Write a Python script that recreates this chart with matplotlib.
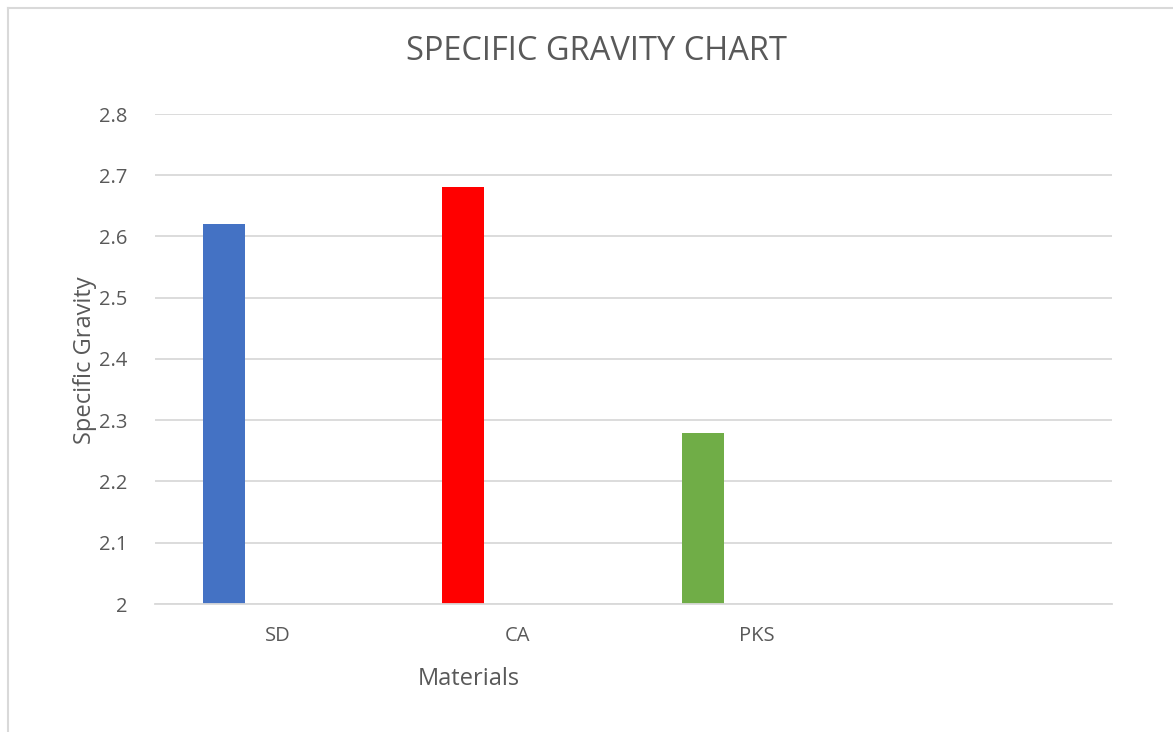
import matplotlib
matplotlib.use("Agg")
import matplotlib.pyplot as plt
from matplotlib.lines import Line2D

categories = ["SD", "CA", "PKS"]
values = [2.62, 2.68, 2.28]
bar_colors = ["#4472C4", "#FF0000", "#70AD47"]
y_ticks = [2.0, 2.1, 2.2, 2.3, 2.4, 2.5, 2.6, 2.7, 2.8]
y_tick_labels = ["2", "2.1", "2.2", "2.3", "2.4", "2.5", "2.6", "2.7", "2.8"]

plt.rcParams["font.family"] = ["Open Sans", "DejaVu Sans"]
text_color = "#595959"
grid_color = "#D9D9D9"

W, H = 1173, 732
fig = plt.figure(figsize=(W / 100, H / 100), dpi=100)
ax = fig.add_axes([155 / W, 1 - 604 / H, (1112 - 155) / W, (604 - 114) / H])

x = list(range(len(categories)))
offset = -0.211
width = 0.176
ax.bar([i + offset for i in x], [v - 2.0 for v in values], bottom=2.0,
       width=width, color=bar_colors, zorder=3)

ax.set_xlim(-0.5, 3.5)
ax.set_ylim(2.0, 2.8)
ax.set_yticks(y_ticks)
ax.set_yticklabels(y_tick_labels)
ax.set_xticks([i + 0.015 for i in x])
ax.set_xticklabels(categories)

ax.yaxis.grid(True, color=grid_color, linewidth=1.3, zorder=0)
for side in ["top", "right", "left"]:
    ax.spines[side].set_visible(False)
ax.spines["bottom"].set_color(grid_color)
ax.spines["bottom"].set_linewidth(1.3)
ax.spines["bottom"].set_zorder(4)

ax.tick_params(axis="both", length=0, labelsize=14.5, colors=text_color)
ax.tick_params(axis="y", pad=20)
ax.tick_params(axis="x", pad=16)

fig.text(596 / W, 1 - 52 / H, "SPECIFIC GRAVITY CHART", ha="center", va="center",
         fontsize=23.5, color=text_color)
fig.text(85 / W, 1 - 360 / H, "Specific Gravity", ha="center", va="center",
         rotation=90, fontsize=17, color=text_color)
fig.text(469 / W, 1 - 679 / H, "Materials", ha="center", va="center",
         fontsize=17, color=text_color)

# chart frame edges
fig.add_artist(Line2D([7.5 / W, 7.5 / W], [0, 1 - 7.5 / H], transform=fig.transFigure,
                      color=grid_color, linewidth=1.5))
fig.add_artist(Line2D([7.5 / W, 1], [1 - 7.5 / H, 1 - 7.5 / H], transform=fig.transFigure,
                      color=grid_color, linewidth=1.5))

fig.savefig("out.png", dpi=100, facecolor="white")
